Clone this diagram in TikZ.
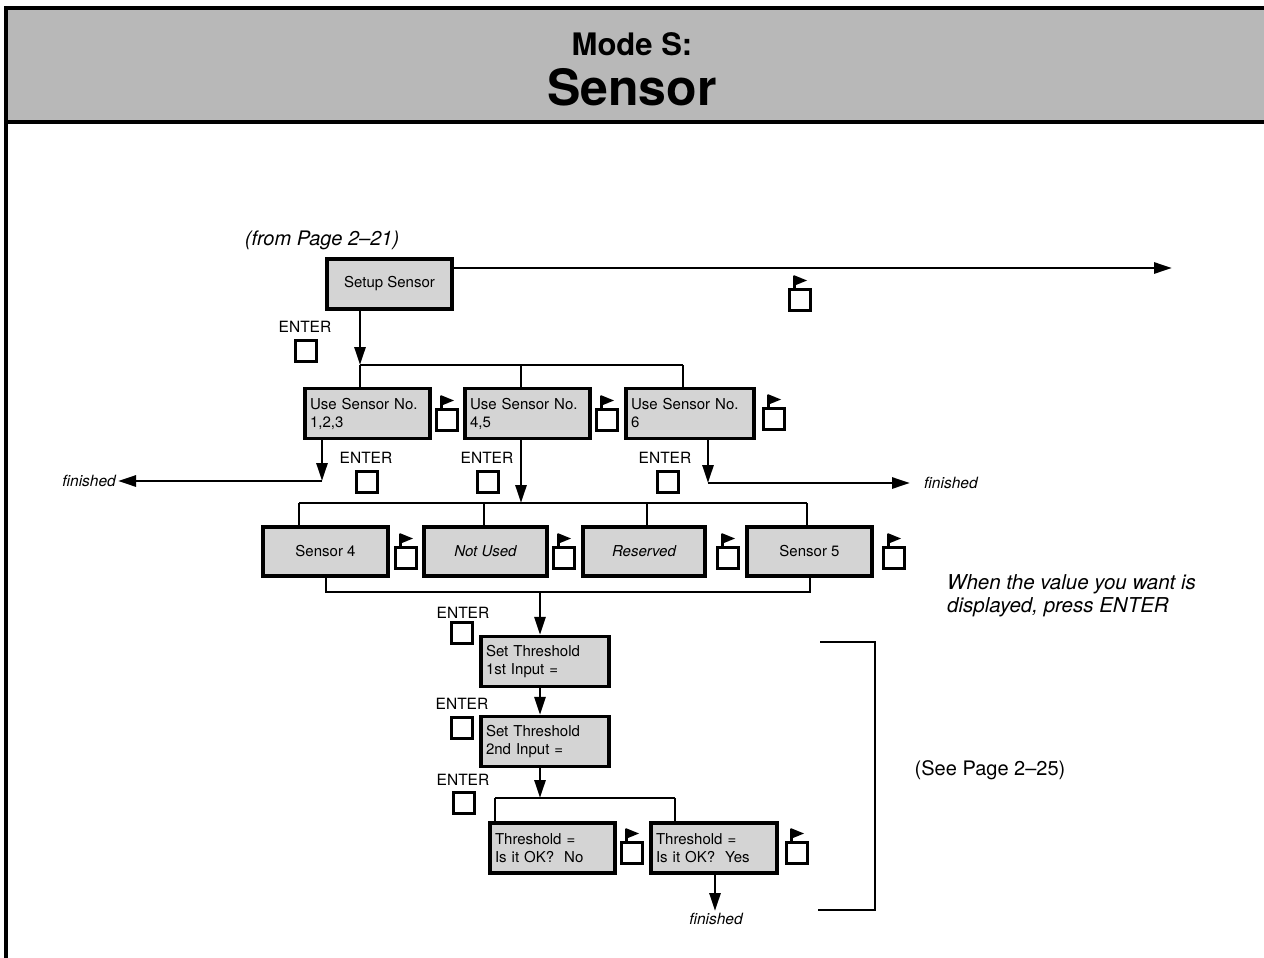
\documentclass[tikz,border=0pt]{standalone}
\usepackage{fontspec}
\setmainfont{TeX Gyre Heros}
\usetikzlibrary{arrows.meta,calc}
\begin{document}
\begin{tikzpicture}[x=1pt,y=-1pt,
  ln/.style={line width=2.8pt},
  arr/.style={line width=2.8pt,-{Triangle[length=18pt,width=11pt]}},
  dispbox/.style={draw,line width=3.2pt,fill=black!17,inner sep=0pt,
    font=\fontsize{15}{18}\selectfont},
  twoline/.style={dispbox,text width=#1,align=left,inner xsep=5pt,minimum height=50pt},
  keybox/.style={draw,line width=2.4pt,minimum size=21pt,inner sep=0pt},
  keylbl/.style={font=\fontsize{15.5}{16}\selectfont,inner sep=0pt},
  fin/.style={font=\fontsize{15.5}{16}\selectfont\itshape,inner sep=2pt},
  flagbox/.pic={
    \draw[line width=2.4pt] (-10.5,-10.5) rectangle (10.5,10.5);
    \draw[line width=2.2pt] (-5.5,-10.5) -- (-5.5,-24);
    \fill (-6.5,-25) -- (7,-19.5) -- (-6.5,-14) -- cycle;
  }
]
\useasboundingbox (0,0) rectangle (1264,958);
% header
\fill[black!28] (6,8) rectangle (1264,122);
\draw[line width=3.2pt] (1264,8) -- (6,8) -- (6,958);
\draw[line width=3.2pt] (6,122) -- (1264,122);
\node[anchor=base,inner sep=0pt,font=\fontsize{31}{31}\selectfont\bfseries] (t1) at (632,56) {Mode S:};
\node[anchor=base,inner sep=0pt,font=\fontsize{50}{50}\selectfont\bfseries] (t2) at (632,106) {Sensor};

% from
\node[inner sep=0pt,font=\fontsize{20}{22}\selectfont\itshape] (from) at (322,240) {(from Page 2--21)};

% Setup Sensor
\node[dispbox,minimum width=125pt,minimum height=50pt] (setup) at (389.5,284) {Setup Sensor};
\coordinate (rEnd) at (1172,268);
\draw[arr] ([yshift=16pt]setup.east) -- (rEnd);
\pic at (800,300) {flagbox};
\node[keylbl] (e0) at (305,327) {ENTER};
\node[keybox] (k0) at (306,351) {};

% bus 1
\coordinate (b1L) at (360,365);
\coordinate (b1M) at (521,365);
\coordinate (b1R) at (683,365);
\draw[arr] (setup.south -| b1L) -- (b1L);
\draw[ln] (b1L) -- (b1R);

\node[twoline=115pt] (u1) at (367.5,413.5) {Use Sensor No.\\1,2,3};
\node[twoline=115pt] (u2) at (527.5,413.5) {Use Sensor No.\\4,5};
\node[twoline=118pt] (u3) at (690,413.5) {Use Sensor No.\\6};
\draw[ln] (b1L) -- (b1L |- u1.north);
\draw[ln] (b1M) -- (b1M |- u2.north);
\draw[ln] (b1R) -- (b1R |- u3.north);
\pic at (447,420) {flagbox};
\pic at (607,420) {flagbox};
\pic at (774,419) {flagbox};

% ENTER keys under row 1
\node[keylbl] (e1) at (366,458) {ENTER};
\node[keybox] (k1) at (367,482) {};
\node[keylbl] (e2) at (487,458) {ENTER};
\node[keybox] (k2) at (488,482) {};
\node[keylbl] (e3) at (665,458) {ENTER};
\node[keybox] (k3) at (668,482) {};

% finished left / right
\node[fin,anchor=east] (fL) at (118,481) {finished};
\coordinate (c1) at (322,481);
\draw[arr] (u1.south -| c1) -- (c1);
\draw[arr] (c1) -- (c1 -| fL.east);
\node[fin,anchor=west] (fR) at (922,483) {finished};
\coordinate (c3) at (708,483);
\draw[arr] (u3.south -| c3) -- (c3);
\draw[arr] (c3) -- ([xshift=-12pt]c3 -| fR.west);

% bus 2
\coordinate (b2A) at (299,503);
\coordinate (b2B) at (484,503);
\coordinate (b2M) at (521,503);
\coordinate (b2C) at (647,503);
\coordinate (b2D) at (807,503);
\draw[arr] (u2.south -| b2M) -- (b2M);
\draw[ln] (b2A) -- (b2D);

\node[dispbox,minimum width=125pt,minimum height=49pt] (s1) at (325.5,551.5) {Sensor 4};
\node[dispbox,minimum width=123pt,minimum height=49pt,font=\fontsize{15}{18}\selectfont\itshape] (s2) at (485.5,551.5) {Not Used};
\node[dispbox,minimum width=122pt,minimum height=49pt,font=\fontsize{15}{18}\selectfont\itshape] (s3) at (644,551.5) {Reserved};
\node[dispbox,minimum width=125pt,minimum height=49pt] (s4) at (809.5,551.5) {Sensor 5};
\draw[ln] (b2A) -- (b2A |- s1.north);
\draw[ln] (b2B) -- (b2B |- s2.north);
\draw[ln] (b2C) -- (b2C |- s3.north);
\draw[ln] (b2D) -- (b2D |- s4.north);
\pic at (406,558) {flagbox};
\pic at (564,558) {flagbox};
\pic at (728,558) {flagbox};
\pic at (894,558) {flagbox};

% bus 3
\coordinate (b3A) at (326,592);
\coordinate (b3M) at (540,592);
\coordinate (b3B) at (810,592);
\draw[ln] (b3A |- s1.south) -- (b3A) -- (b3B) -- (b3B |- s4.south);

\node[keylbl] (e4) at (463,613) {ENTER};
\node[keybox] (k4) at (462,633) {};
\node[twoline=118pt] (th1) at (545,661.5) {Set Threshold\\1st Input =};
\draw[arr] (b3M) -- (b3M |- th1.north);

\node[keylbl] (e5) at (462,704) {ENTER};
\node[keybox] (k5) at (462,728) {};
\node[twoline=118pt] (th2) at (545,741.5) {Set Threshold\\2nd Input =};
\draw[arr] (th1.south -| b3M) -- (th2.north -| b3M);

% bus 4
\node[keylbl] (e6) at (463,780) {ENTER};
\node[keybox] (k6) at (464,803) {};
\coordinate (b4A) at (495,798);
\coordinate (b4M) at (540,798);
\coordinate (b4B) at (675,798);
\draw[arr] (th2.south -| b4M) -- (b4M);
\draw[ln] (b4A) -- (b4B);
\node[twoline=115pt] (no) at (552.5,848) {Threshold =\\Is it OK?~~No};
\node[twoline=116pt] (yes) at (714,848) {Threshold =\\Is it OK?~~Yes};
\draw[ln] (b4A) -- (b4A |- no.north);
\draw[ln] (b4B) -- (b4B |- yes.north);
\pic at (632,853) {flagbox};
\pic at (797,853) {flagbox};
\node[fin,anchor=north] (fB) at (716,911) {finished};
\coordinate (c4) at (715,873);
\draw[arr] (c4) -- (fB.north -| c4);

% bracket
\draw[line width=2.8pt] (820,642) -- (875,642) -- (875,910) -- (818,910);

\node[anchor=west,align=left,inner sep=0pt,font=\fontsize{20.5}{23}\selectfont\itshape] (note) at (947,596) {When the value you want is\\displayed, press ENTER};
\node[inner sep=0pt,font=\fontsize{20}{22}\selectfont] (see) at (990,770) {(See Page 2--25)};
\end{tikzpicture}
\end{document}
